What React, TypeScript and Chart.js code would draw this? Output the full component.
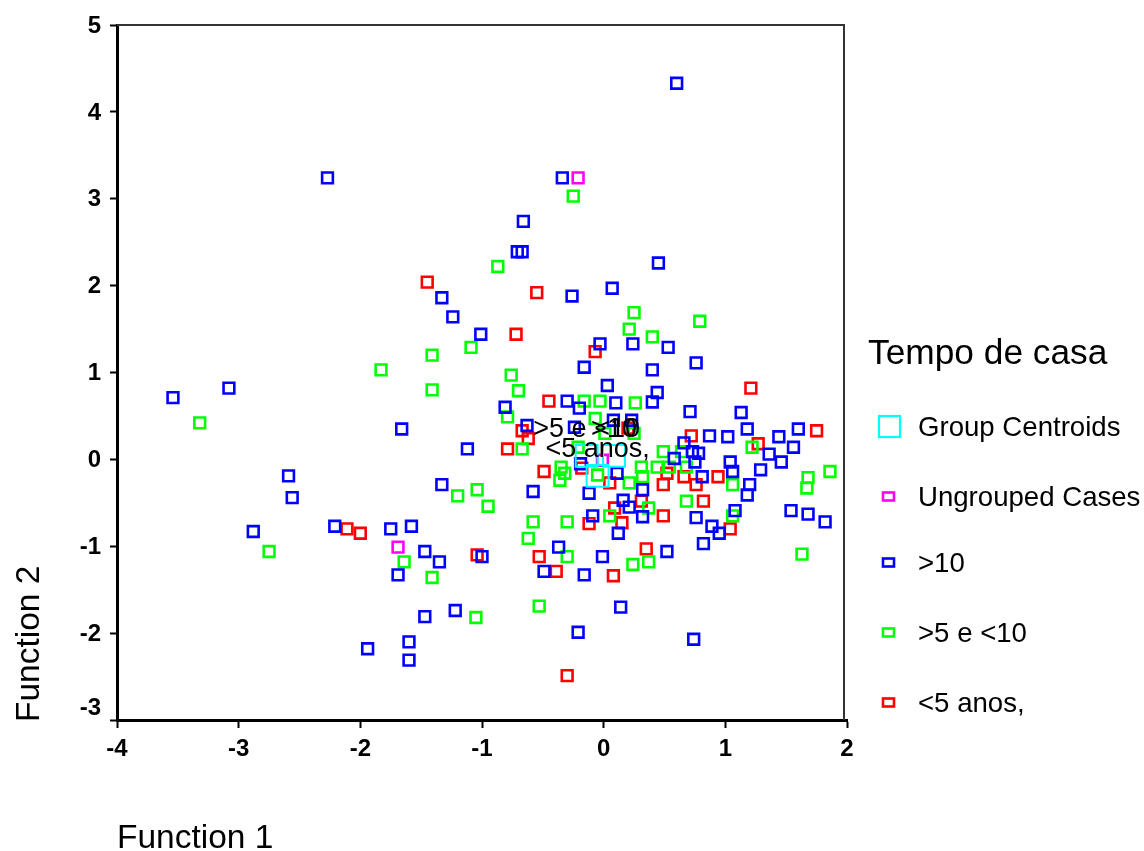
import React, { useEffect, useRef } from "react";
import { Chart, registerables } from "chart.js";
Chart.register(...registerables);

const xTicks = [-4, -3, -2, -1, 0, 1, 2];
const yTicks = [-3, -2, -1, 0, 1, 2, 3, 4, 5];

const legendTitle = "Tempo de casa";
const seriesNames = ["Group Centroids", "Ungrouped Cases", ">10", ">5 e <10", "<5 anos,"];
const seriesColors = ["#00FFFF", "#FF00FF", "#0000FF", "#00FF00", "#FF0000"];

const centroidLabels = [">10", ">5 e <10", "<5 anos,"];
const centroids: [number, number][] = [
  [0.085, 0.04],
  [-0.14, 0.04],
  [-0.05, -0.19],
];

const ungrouped: [number, number][] = [
  [-0.21, 3.24],
  [-0.01, -0.01],
  [-1.69, -1.01],
];

const over10: [number, number][] = [
  [0.6, 4.33], [-2.27, 3.24], [-0.34, 3.24], [-0.66, 2.74], [-0.71, 2.39], [-0.67, 2.39],
  [0.45, 2.26], [-0.26, 1.88], [0.07, 1.97], [-1.33, 1.86], [-1.24, 1.64], [-1.01, 1.44],
  [-0.03, 1.33], [0.24, 1.33], [0.53, 1.29], [-0.16, 1.06], [0.4, 1.03], [0.76, 1.11],
  [0.03, 0.85], [0.44, 0.77], [0.4, 0.66], [-3.08, 0.82], [-3.54, 0.71], [-1.66, 0.35],
  [-0.81, 0.6], [-0.3, 0.67], [-0.2, 0.59], [0.1, 0.65], [0.71, 0.55], [1.13, 0.54],
  [-1.12, 0.12], [-0.63, 0.39], [-0.24, 0.37], [0.08, 0.45], [0.23, 0.45], [1.18, 0.35],
  [1.6, 0.35], [1.44, 0.26], [1.56, 0.14], [1.36, 0.06], [1.46, -0.03], [0.87, 0.27],
  [1.02, 0.26], [0.66, 0.19], [0.73, 0.09], [0.78, 0.07], [1.04, -0.03], [1.06, -0.14],
  [1.29, -0.12], [0.58, 0.01], [0.75, -0.03], [0.81, -0.2], [1.2, -0.29], [0.32, -0.35],
  [0.11, -0.16], [-1.33, -0.29], [-0.58, -0.37], [-0.19, -0.05], [-0.12, -0.39], [0.16, -0.47],
  [1.18, -0.41], [1.54, -0.59], [1.68, -0.63], [1.82, -0.72], [1.08, -0.59], [0.76, -0.67],
  [0.89, -0.77], [0.95, -0.85], [0.82, -0.97], [0.52, -1.06], [0.12, -0.85], [0.32, -0.66],
  [0.21, -0.55], [0.14, -1.7], [0.74, -2.07], [-0.09, -0.65], [-1.75, -0.8], [-1.58, -0.77],
  [-1.47, -1.06], [-1.35, -1.18], [-1.69, -1.33], [-1.0, -1.12], [-0.37, -1.01], [-0.49, -1.29],
  [-0.16, -1.33], [-0.01, -1.12], [-1.47, -1.81], [-1.22, -1.74], [-1.94, -2.18], [-1.6, -2.1],
  [-1.6, -2.31], [-0.21, -1.99], [-2.56, -0.44], [-2.59, -0.19], [-2.88, -0.83], [-2.21, -0.77],
];

const from5to10: [number, number][] = [
  [-0.25, 3.03], [-0.87, 2.22], [0.25, 1.69], [0.21, 1.5], [0.79, 1.59], [0.4, 1.41],
  [-1.09, 1.29], [-1.41, 1.2], [-1.83, 1.03], [-1.41, 0.8], [-0.76, 0.97], [-0.7, 0.79],
  [-0.16, 0.67], [-0.03, 0.67], [0.26, 0.65], [-0.79, 0.49], [-0.07, 0.47], [0.01, 0.3],
  [-0.67, 0.12], [0.25, 0.3], [-0.21, 0.14], [-0.35, -0.09], [-0.36, -0.24], [-0.32, -0.16],
  [-0.05, -0.18], [0.49, 0.09], [0.64, 0.09], [0.31, -0.09], [0.44, -0.09], [0.54, -0.09],
  [0.68, -0.09], [0.32, -0.2], [0.21, -0.27], [1.22, 0.14], [1.68, -0.21], [1.86, -0.14],
  [1.67, -0.33], [1.06, -0.29], [-3.32, 0.42], [-1.2, -0.42], [-1.04, -0.35], [-0.95, -0.54],
  [-0.58, -0.72], [-0.3, -0.72], [0.05, -0.65], [-0.62, -0.91], [-0.3, -1.12], [-1.64, -1.18],
  [-1.41, -1.36], [-0.53, -1.69], [-1.05, -1.82], [0.37, -0.56], [0.68, -0.48], [1.06, -0.65],
  [1.63, -1.09], [0.24, -1.21], [0.37, -1.18], [-2.75, -1.06],
];

const under5: [number, number][] = [
  [-1.45, 2.04], [-0.55, 1.92], [-0.72, 1.44], [-0.07, 1.24], [-0.45, 0.67], [1.21, 0.82],
  [1.75, 0.33], [1.27, 0.18], [0.72, 0.27], [0.2, 0.36], [-0.67, 0.33], [-0.62, 0.24],
  [-0.79, 0.12], [-0.49, -0.14], [-0.18, -0.1], [0.05, -0.27], [0.52, -0.16], [0.66, -0.2],
  [0.94, -0.2], [0.49, -0.29], [0.76, -0.29], [0.31, -0.48], [0.82, -0.48], [0.09, -0.56],
  [0.15, -0.73], [0.49, -0.65], [1.04, -0.8], [0.35, -1.03], [0.08, -1.34], [-0.12, -0.74],
  [-0.53, -1.12], [-0.39, -1.29], [-1.04, -1.1], [-2.11, -0.8], [-2.0, -0.85], [-0.3, -2.49],
];

const toPts = (arr: [number, number][]) => arr.map(([x, y]) => ({ x, y }));

const FONT = "'Liberation Sans', Arial, sans-serif";

const overlayPlugin = {
  id: "overlay",
  afterDatasetsDraw(chart: any) {
    const ctx = chart.ctx;
    const meta = chart.getDatasetMeta(0);
    ctx.save();
    ctx.fillStyle = "#000";
    ctx.font = `27px ${FONT}`;
    ctx.textAlign = "center";
    ctx.textBaseline = "alphabetic";
    meta.data.forEach((el: any, i: number) => {
      ctx.fillText(centroidLabels[i], el.x, el.y - 19);
    });
    ctx.restore();
  },
  afterDraw(chart: any) {
    const ctx = chart.ctx;
    const a = chart.chartArea;
    ctx.save();
    // frame top and right
    ctx.strokeStyle = "#333";
    ctx.lineWidth = 2;
    ctx.beginPath();
    ctx.moveTo(a.left, a.top);
    ctx.lineTo(a.right - 3, a.top);
    ctx.lineTo(a.right - 3, a.bottom);
    ctx.stroke();

    // y tick labels
    const ys = chart.scales.y;
    ctx.fillStyle = "#000";
    ctx.font = `bold 24px ${FONT}`;
    ctx.textAlign = "right";
    ctx.textBaseline = "middle";
    yTicks.forEach((v, i) => {
      const py = ys.getPixelForValue(v);
      ctx.fillText(String(v), 101, i === 0 ? py - 12 : py + 1);
    });

    // axis titles
    ctx.font = `33.5px ${FONT}`;
    ctx.textAlign = "left";
    ctx.textBaseline = "alphabetic";
    ctx.fillText("Function 1", 117, 848);
    ctx.save();
    ctx.translate(39, 722);
    ctx.rotate(-Math.PI / 2);
    ctx.fillText("Function 2", 0, 0);
    ctx.restore();

    // legend
    ctx.font = `35.3px ${FONT}`;
    ctx.textBaseline = "middle";
    ctx.fillText(legendTitle, 868, 354);
    const ly = [427, 497, 563, 633, 703];
    ctx.font = `27.6px ${FONT}`;
    seriesNames.forEach((name, i) => {
      const y = ly[i];
      ctx.strokeStyle = seriesColors[i];
      if (i === 0) {
        ctx.lineWidth = 2.2;
        ctx.strokeRect(879, y - 11, 21, 21);
      } else {
        ctx.lineWidth = 2.6;
        ctx.strokeRect(883, y - 4.5, 11, 8);
      }
      ctx.fillStyle = "#000";
      ctx.fillText(name, 918, y + 1);
    });
    ctx.restore();
  },
};

export default function App() {
  const ref = useRef<HTMLCanvasElement | null>(null);
  useEffect(() => {
    if (!ref.current) return;
    const mk = (label: string, data: [number, number][], color: string, r: number, bw: number) => ({
      label,
      data: toPts(data),
      pointStyle: "rect",
      pointRadius: r,
      pointHoverRadius: r,
      borderColor: color,
      backgroundColor: "rgba(0,0,0,0)",
      pointBorderWidth: bw,
      borderWidth: bw,
      showLine: false,
    });
    const chart = new Chart(ref.current, {
      type: "scatter",
      data: {
        datasets: [
          mk("Group Centroids", centroids, seriesColors[0], 15.5, 2),
          mk("Ungrouped Cases", ungrouped, seriesColors[1], 7.6, 2.6),
          mk(">10", over10, seriesColors[2], 7.6, 2.6),
          mk(">5 e <10", from5to10, seriesColors[3], 7.6, 2.6),
          mk("<5 anos,", under5, seriesColors[4], 7.6, 2.6),
        ] as any,
      },
      options: {
        responsive: false,
        animation: false,
        events: [],
        layout: { padding: { top: 25, right: 297, left: 0, bottom: 0 } },
        plugins: { legend: { display: false }, tooltip: { enabled: false } },
        scales: {
          x: {
            type: "linear",
            min: -4,
            max: 2,
            afterFit: (s: any) => { s.height = 131; },
            afterBuildTicks: (s: any) => { s.ticks = xTicks.map((v) => ({ value: v })); },
            border: { display: true, color: "#000", width: 3 },
            grid: { drawOnChartArea: false, drawTicks: true, tickLength: 8, tickColor: "#000", tickWidth: 2 },
            ticks: { color: "#000", font: { family: FONT, size: 24, weight: "bold" }, padding: 7, maxRotation: 0 },
          },
          y: {
            type: "linear",
            min: -3,
            max: 5,
            afterFit: (s: any) => { s.width = 117; },
            afterBuildTicks: (s: any) => { s.ticks = yTicks.map((v) => ({ value: v })); },
            border: { display: true, color: "#000", width: 3 },
            grid: { drawOnChartArea: false, drawTicks: true, tickLength: 7, tickColor: "#000", tickWidth: 2 },
            ticks: { display: false },
          },
        },
      } as any,
      plugins: [overlayPlugin],
    });
    return () => chart.destroy();
  }, []);
  return (
    <div style={{ position: "absolute", left: 0, top: 0, width: 1144, height: 851, background: "#fff" }}>
      <canvas ref={ref} width={1144} height={851} style={{ display: "block" }} />
    </div>
  );
}
